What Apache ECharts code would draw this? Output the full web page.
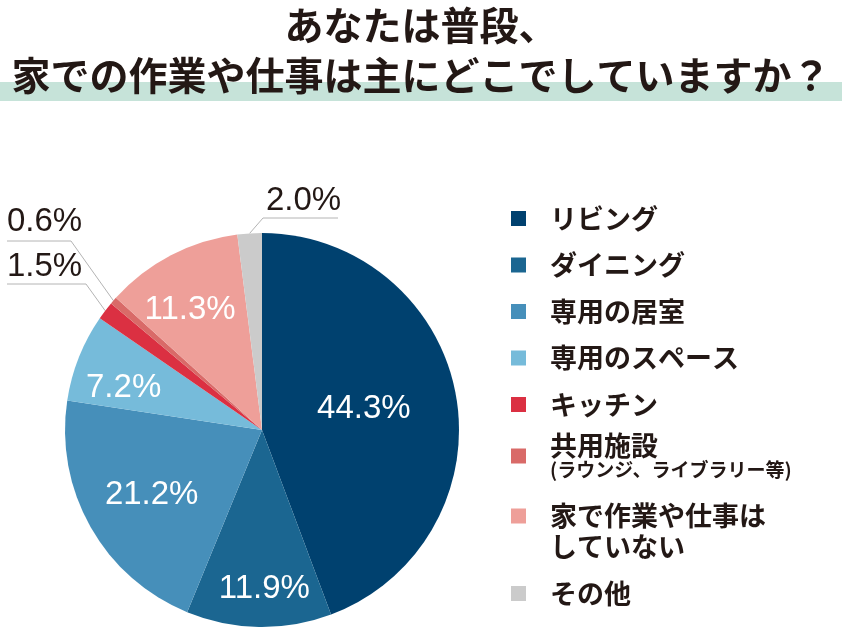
<!DOCTYPE html>
<html>
<head>
<meta charset="utf-8">
<script src="https://cdn.jsdelivr.net/npm/echarts@6/dist/echarts.min.js"></script>
<style>
  html, body { margin: 0; padding: 0; background: #fff; }
  #chart { width: 842px; height: 635px; }
</style>
</head>
<body>
<div id="chart"></div>
<script>
// 回答項目と割合（%）
const categories = [
  'リビング',
  'ダイニング',
  '専用の居室',
  '専用のスペース',
  'キッチン',
  '共用施設',
  '家で作業や仕事はしていない',
  'その他'
];
const shares = [44.3, 11.9, 21.2, 7.2, 1.5, 0.6, 11.3, 2.0];
const colors = ['#00416f', '#1b6691', '#468fba', '#76bbda', '#db3042', '#d96a68', '#ee9f99', '#cbcbcb'];

const titleText = 'あなたは普段、\n家での作業や仕事は主にどこでしていますか？';

// 小さいスライスは外側ラベル（引き出し線つき）
const outsideLabels = {
  4: { textX: 7, textY: 267, elbowX: 86, lineY: 284, endX: 7 },
  5: { textX: 7, textY: 222, elbowX: 71, lineY: 241, endX: 7 },
  7: { textX: 266, textY: 201, elbowX: 263, lineY: 218, endX: 338 }
};
// 内側ラベルの微調整
const insideShift = { 0: [2, -3], 1: [4, 57], 2: [-22, 15], 3: [-44, -5], 6: [-25, -30] };

const textColor = '#231815';
const jpFont = '"Noto Sans CJK JP", sans-serif';

const chart = echarts.init(document.getElementById('chart'), null, { renderer: 'canvas' });

const pieData = categories.map((name, i) => {
  const item = { name: name, value: shares[i], itemStyle: { color: colors[i] } };
  if (outsideLabels[i]) {
    item.label = { position: 'outside', color: textColor };
    item.labelLine = { show: true };
  }
  return item;
});

function legendBase(names, top) {
  return {
    orient: 'vertical',
    left: 511,
    top: top,
    padding: 0,
    itemWidth: 15,
    itemHeight: 15,
    itemGap: 19.5,
    icon: 'rect',
    selectedMode: false,
    data: names,
    textStyle: {
      fontFamily: jpFont,
      fontWeight: 'bold',
      fontSize: 27,
      lineHeight: 26,
      color: textColor,
      padding: [0, 0, 0, 19]
    }
  };
}

const legendMain = legendBase(categories.slice(0, 5), 205);
const legendShared = legendBase([categories[5]], 432);
legendShared.formatter = '{a|共用施設}\n{b|(ラウンジ、ライブラリー等)}';
legendShared.textStyle.rich = {
  a: { fontFamily: jpFont, fontWeight: 'bold', fontSize: 27, lineHeight: 28, color: textColor },
  b: { fontFamily: jpFont, fontWeight: 'bold', fontSize: 19, lineHeight: 20, color: textColor }
};
const legendNone = legendBase([categories[6]], 469.5);
legendNone.formatter = '\n家で作業や仕事は\nしていない';
legendNone.textStyle.lineHeight = 31;
const legendOther = legendBase([categories[7]], 580);

const option = {
  animation: false,
  backgroundColor: '#ffffff',
  title: {
    text: titleText,
    left: 421,
    top: 0,
    textAlign: 'center',
    padding: 0,
    textStyle: {
      fontFamily: jpFont,
      fontWeight: 'bold',
      fontSize: 39,
      lineHeight: 50,
      color: textColor
    },
    z: 10
  },
  graphic: [{
    type: 'rect',
    shape: { x: 0, y: 82, width: 842, height: 19 },
    style: { fill: '#c6e3d9' },
    z: -1
  }],
  legend: [legendMain, legendShared, legendNone, legendOther],
  series: [{
    type: 'pie',
    center: [262, 430],
    radius: 197,
    startAngle: 90,
    clockwise: true,
    avoidLabelOverlap: false,
    silent: true,
    itemStyle: { borderWidth: 0 },
    label: {
      show: true,
      position: 'inside',
      formatter: p => p.value.toFixed(1) + '%',
      fontFamily: '"Liberation Sans", Arial, sans-serif',
      fontSize: 33,
      color: '#ffffff'
    },
    labelLine: {
      show: false,
      lineStyle: { color: '#b4b4b4', width: 1 }
    },
    labelLayout: function (params) {
      const i = params.dataIndex;
      const o = outsideLabels[i];
      if (o) {
        const p0 = params.labelLinePoints ? params.labelLinePoints[0] : [o.elbowX, o.lineY];
        return {
          x: o.textX,
          y: o.textY,
          align: 'left',
          verticalAlign: 'middle',
          labelLinePoints: [p0, [o.elbowX, o.lineY], [o.endX, o.lineY]]
        };
      }
      const s = insideShift[i] || [0, 0];
      return { dx: s[0], dy: s[1] };
    },
    data: pieData
  }]
};

chart.setOption(option);
</script>
</body>
</html>
